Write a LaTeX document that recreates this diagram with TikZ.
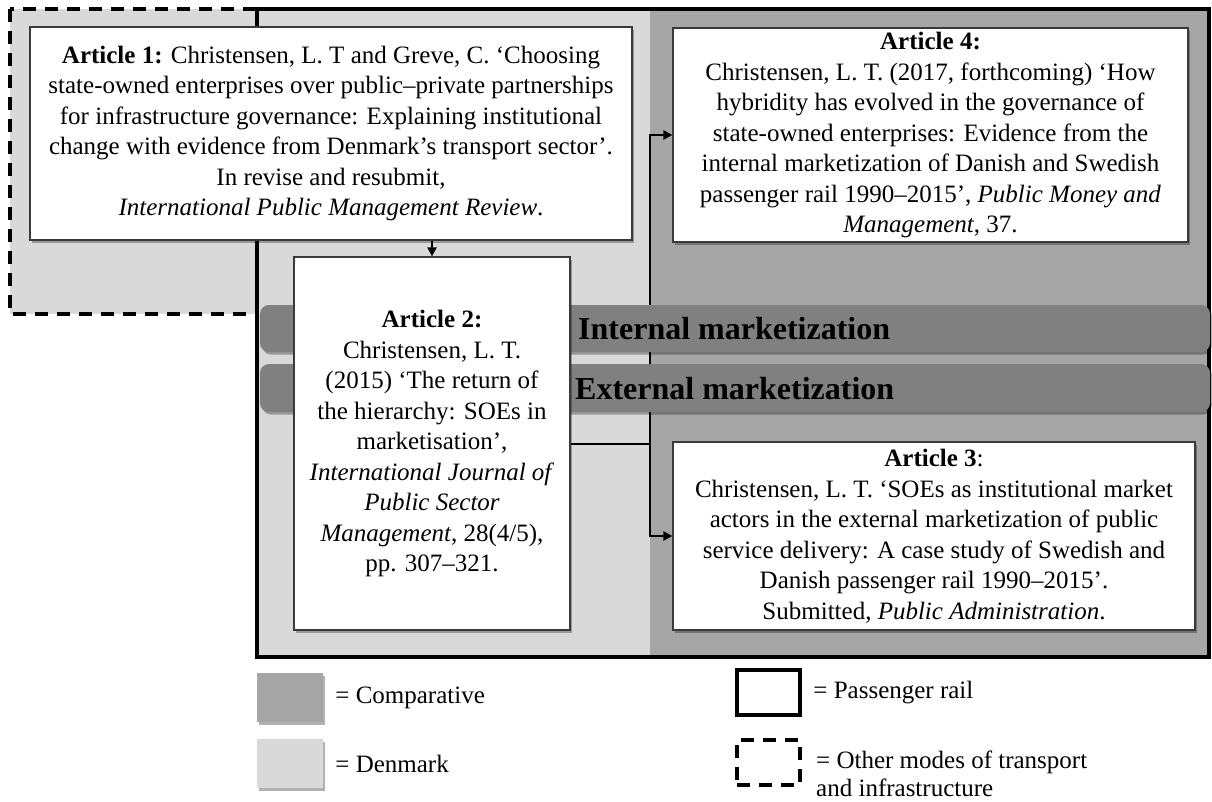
\documentclass[tikz,border=0pt]{standalone}
\usepackage{fontspec}
\setmainfont{Liberation Serif}
\usetikzlibrary{shadows,arrows.meta}
\definecolor{lightg}{HTML}{D9D9D9}
\definecolor{darkg}{HTML}{A6A6A6}
\definecolor{bandg}{HTML}{808080}
\definecolor{boxline}{HTML}{3A3A3A}
\begin{document}
\begin{tikzpicture}[x=1pt,y=-1pt,
  shadowed/.style={drop shadow={shadow xshift=2pt,shadow yshift=-2.5pt,opacity=0.3,fill=black}},
  artbox/.style={draw=boxline,line width=1.2pt,fill=white,align=center,inner sep=0pt,
    font=\fontsize{25}{30.5}\selectfont,shadowed},
  band/.style={fill=bandg,rounded corners=9pt,inner sep=0pt,shadowed},
  bandtext/.style={font=\fontsize{32}{36}\selectfont\bfseries,inner sep=0pt,anchor=base west},
  conn/.style={line width=2pt,draw=black},
  tip/.style={-{Triangle[length=9pt,width=9pt]}},
  legtext/.style={font=\fontsize{25}{30}\selectfont,inner sep=0pt},
  swatch/.style={inner sep=0pt,minimum width=66pt,minimum height=49pt,shadowed},
  railline/.style={line width=4.5pt,draw=black},
  otherline/.style={line width=4pt,draw=black,dash pattern=on 13pt off 9pt}
]
\useasboundingbox (0,0) rectangle (1212,801);

% dashed region (other modes)
\draw[otherline,fill=lightg] (10,9) rectangle (257,314);

% solid region (passenger rail)
\fill[lightg] (257,9) rectangle (650,657);
\fill[darkg] (650,9) rectangle (1209,657);
\draw[railline] (257,9) rectangle (1209,657);

% article boxes
\node[artbox,minimum width=602pt,minimum height=213pt] (a1) at (331,133.5)
  {\textbf{Article 1:} Christensen, L. T and Greve, C. ‘Choosing\\
   state-owned enterprises over public–private partnerships\\
   for infrastructure governance: Explaining institutional\\
   change with evidence from Denmark’s transport sector’.\\
   In revise and resubmit,\\
   \textit{International Public Management Review}.};

\node[artbox,minimum width=515pt,minimum height=214pt] (a4) at (930.5,135)
  {\textbf{Article 4:}\\
   Christensen, L. T. (2017, forthcoming) ‘How\\
   hybridity has evolved in the governance of\\
   state-owned enterprises: Evidence from the\\
   internal marketization of Danish and Swedish\\
   passenger rail 1990–2015’, \textit{Public Money and}\\
   \textit{Management}, 37.};

\node[artbox,minimum width=522pt,minimum height=188pt] (a3) at (934,536)
  {\textbf{Article 3}:\\
   Christensen, L. T. ‘SOEs as institutional market\\
   actors in the external marketization of public\\
   service delivery: A case study of Swedish and\\
   Danish passenger rail 1990–2015’.\\
   Submitted, \textit{Public Administration}.};

% connectors from article 2
\coordinate (j) at (650,443.5);
\draw[conn] (432,443.5) -- (j);
\draw[conn,tip] (j) |- (a4.west);
\draw[conn,tip] (j) |- (a3.west);

% bands
\node[band,minimum width=950pt,minimum height=47pt] (bi) at (735,328.5) {};
\node[band,minimum width=950pt,minimum height=48pt] (be) at (735,388) {};
\node[bandtext] (bit) at (578,339.5) {Internal marketization};
\node[bandtext] (bet) at (575,399) {External marketization};

% article 2
\node[artbox,minimum width=276pt,minimum height=373pt] (a2) at (432,443.5)
  {\textbf{Article 2:}\\
   Christensen, L. T.\\
   (2015) ‘The return of\\
   the hierarchy: SOEs in\\
   marketisation’,\\
   \textit{International Journal of}\\
   \textit{Public Sector}\\
   \textit{Management}, 28(4/5),\\
   pp. 307–321.};

\draw[conn,tip] (a2.north |- a1.south) -- (a2.north);

% legend
\node[swatch,fill=darkg] (lc) at (290,697.5) {};
\node[legtext,anchor=west] (lct) at ([xshift=12pt]lc.east) {= Comparative};
\node[swatch,fill=lightg] (ld) at (290,763.5) {};
\node[legtext,anchor=west] (ldt) at ([xshift=12pt]ld.east) {= Denmark};

\node[railline,inner sep=0pt,minimum width=63pt,minimum height=45pt] (lp) at (768.5,692.5) {};
\node[legtext,anchor=west] (lpt) at ([xshift=11pt]lp.east) {= Passenger rail};
\node[otherline,inner sep=0pt,minimum width=63pt,minimum height=45pt] (lo) at (768.5,762.5) {};
\node[legtext,anchor=west] (lot1) at ([xshift=14pt]lo.east) {= Other modes of transport};
\node[legtext,anchor=base west] (lot2) at ([yshift=-28pt]lot1.base west) {and infrastructure};
\end{tikzpicture}
\end{document}
